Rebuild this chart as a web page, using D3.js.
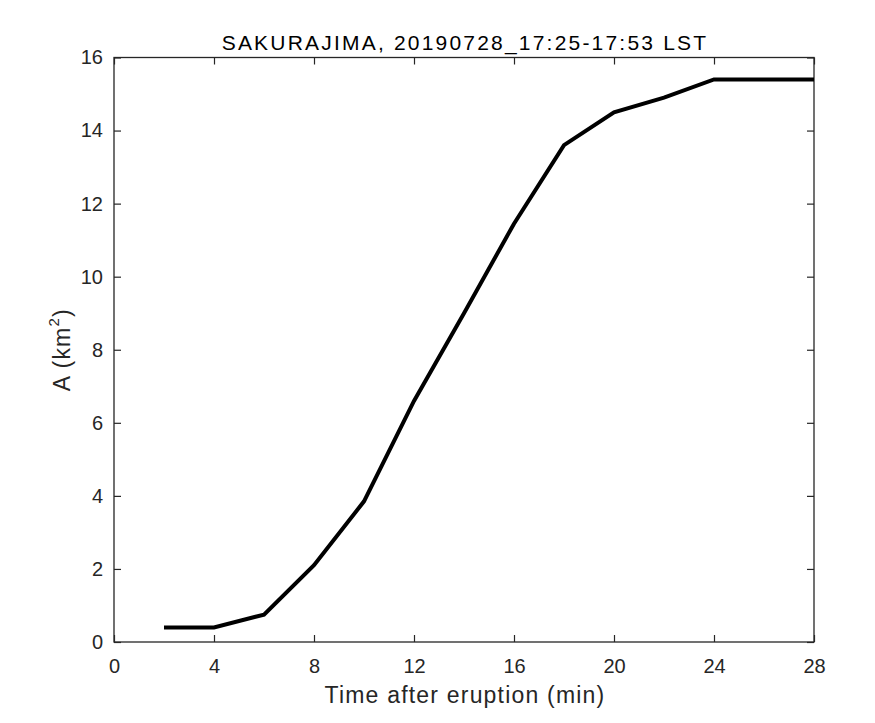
<!DOCTYPE html>
<html>
<head>
<meta charset="utf-8">
<script src="https://cdn.jsdelivr.net/npm/d3@7.9.0/dist/d3.min.js"></script>
<style>
  body { margin: 0; background: #fff; }
  svg text { font-family: "Liberation Sans", Arial, sans-serif; fill: #262626; }
</style>
</head>
<body>
<svg id="chart" width="875" height="723"></svg>
<script>
// minutes after eruption
const times = [2, 4, 6, 8, 10, 12, 14, 16, 18, 20, 22, 24, 26, 28];
// area A (km^2)
const areas = [0.4, 0.4, 0.75, 2.1, 3.85, 6.6, 9.0, 11.45, 13.6, 14.5, 14.9, 15.4, 15.4, 15.4];
const xTicks = [0, 4, 8, 12, 16, 20, 24, 28];
const yTicks = [0, 2, 4, 6, 8, 10, 12, 14, 16];

const svg = d3.select("#chart");
const plotL = 114, plotR = 814, plotT = 57.5, plotB = 642;

const x = d3.scaleLinear().domain([0, 28]).range([plotL, plotR]);
const y = d3.scaleLinear().domain([0, 16]).range([plotB, plotT]);
const axisColor = "#262626";

// box
svg.append("rect")
  .attr("x", plotL).attr("y", plotT)
  .attr("width", plotR - plotL).attr("height", plotB - plotT)
  .attr("fill", "none").attr("stroke", axisColor).attr("stroke-width", 1.3);

const tickLen = 7;
const styleAxis = g => {
  g.select(".domain").remove();
  g.selectAll(".tick line").attr("stroke", axisColor).attr("stroke-width", 1.2);
  g.selectAll(".tick text").attr("font-size", 20).style("fill", axisColor);
};

// bottom axis with labels
svg.append("g").attr("transform", `translate(0,${plotB})`)
  .call(d3.axisBottom(x).tickValues(xTicks).tickSize(-tickLen).tickPadding(16.5).tickFormat(d3.format("d")))
  .call(styleAxis);
// top ticks
svg.append("g").attr("transform", `translate(0,${plotT})`)
  .call(d3.axisTop(x).tickValues(xTicks).tickSize(-tickLen).tickFormat(""))
  .call(styleAxis);
// left axis with labels
svg.append("g").attr("transform", `translate(${plotL},0)`)
  .call(d3.axisLeft(y).tickValues(yTicks).tickSize(-tickLen).tickPadding(11).tickFormat(d3.format("d")))
  .call(styleAxis);
// right ticks
svg.append("g").attr("transform", `translate(${plotR},0)`)
  .call(d3.axisRight(y).tickValues(yTicks).tickSize(-tickLen).tickFormat(""))
  .call(styleAxis);

// line
const line = d3.line().x((d, i) => x(times[i])).y(d => y(d));
svg.append("path")
  .datum(areas)
  .attr("d", line)
  .attr("fill", "none")
  .attr("stroke", "#000")
  .attr("stroke-width", 4)
  .attr("stroke-linejoin", "miter");

// title
svg.append("text")
  .attr("x", (plotL + plotR) / 2 + 1).attr("y", 50)
  .attr("text-anchor", "middle").attr("font-size", 21)
  .attr("letter-spacing", 2.2)
  .style("fill", "#000")
  .text("SAKURAJIMA, 20190728_17:25-17:53 LST");

// x label
svg.append("text")
  .attr("x", (plotL + plotR) / 2 + 1).attr("y", 703)
  .attr("text-anchor", "middle").attr("font-size", 23)
  .attr("letter-spacing", 1.2)
  .text("Time after eruption (min)");

// y label
const yl = svg.append("text")
  .attr("transform", `translate(70,${(plotT + plotB) / 2}) rotate(-90)`)
  .attr("text-anchor", "middle").attr("font-size", 23)
  .attr("letter-spacing", 1.2);
yl.append("tspan").text("A (km");
yl.append("tspan").attr("font-size", 15).attr("dy", -11).text("2");
yl.append("tspan").attr("dy", 11).text(")");
</script>
</body>
</html>
